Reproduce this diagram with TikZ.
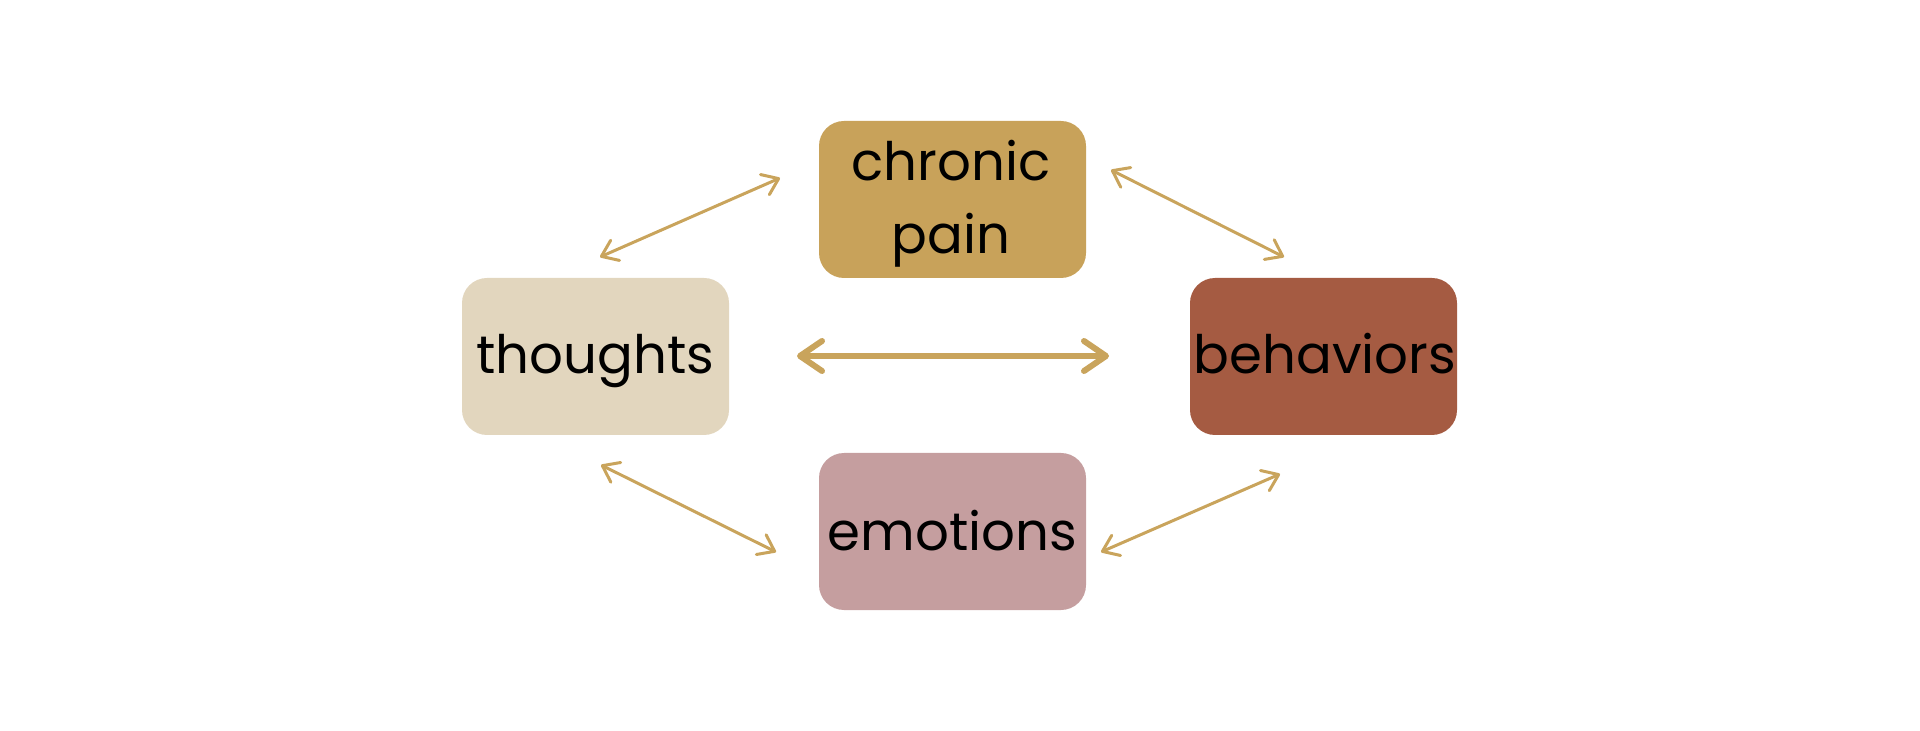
\documentclass[tikz,border=0pt]{standalone}
\usepackage{fontspec}
\setmainfont{Poppins}
\usetikzlibrary{arrows.meta}
\definecolor{gold}{HTML}{C8A25A}
\definecolor{sand}{HTML}{E2D6BE}
\definecolor{rust}{HTML}{A55B42}
\definecolor{rose}{HTML}{C59E9F}
\definecolor{arrowc}{HTML}{C9A45C}
\tikzset{
  boxstyle/.style={rounded corners=12.5pt, minimum width=133.5pt, minimum height=78.5pt, inner sep=0pt},
  labelstyle/.style={inner sep=0pt, align=center, anchor=base, font=\fontsize{26.5}{36.5}\selectfont, text=black},
  thinlink/.style={draw=arrowc, line width=1.5pt, line cap=round, {Straight Barb[length=7.5pt,width=11pt,line width=1.5pt,round]}-{Straight Barb[length=7.5pt,width=11pt,line width=1.5pt,round]}},
  thicklink/.style={draw=arrowc, line width=3pt, line cap=round, {Straight Barb[length=11pt,width=15pt,line width=3pt,round]}-{Straight Barb[length=11pt,width=15pt,line width=3pt,round]}}
}
\begin{document}
\begin{tikzpicture}[x=0.5pt,y=-0.5pt]
\useasboundingbox (0,0) rectangle (1920,731);
\node[boxstyle, fill=gold] (chronic) at (952.5,199.5) {};
\node[boxstyle, fill=sand] (thoughts) at (595.5,356.5) {};
\node[boxstyle, fill=rust] (behaviors) at (1323.5,356.5) {};
\node[boxstyle, fill=rose] (emotions) at (952.5,531.5) {};
\node[labelstyle] (chronictext) at (951,181) {chronic};
\node[labelstyle] (paintext) at (951,254) {pain};
\node[labelstyle] (thoughtstext) at (595.5,374) {thoughts};
\node[labelstyle] (behaviorstext) at (1325,374) {behaviors};
\node[labelstyle] (emotionstext) at (952.5,550) {emotions};
\coordinate (tc1) at (600,257);
\coordinate (tc2) at (780,178);
\coordinate (cb1) at (1111,170);
\coordinate (cb2) at (1284,257);
\coordinate (te1) at (601,465);
\coordinate (te2) at (776,552);
\coordinate (eb1) at (1101,552);
\coordinate (eb2) at (1280,474);
\coordinate (tb1) at (797,356);
\coordinate (tb2) at (1109,356);
\draw[thinlink] (tc1) -- (tc2);
\draw[thinlink] (cb1) -- (cb2);
\draw[thinlink] (te1) -- (te2);
\draw[thinlink] (eb1) -- (eb2);
\draw[thicklink] (tb1) -- (tb2);
\end{tikzpicture}
\end{document}
